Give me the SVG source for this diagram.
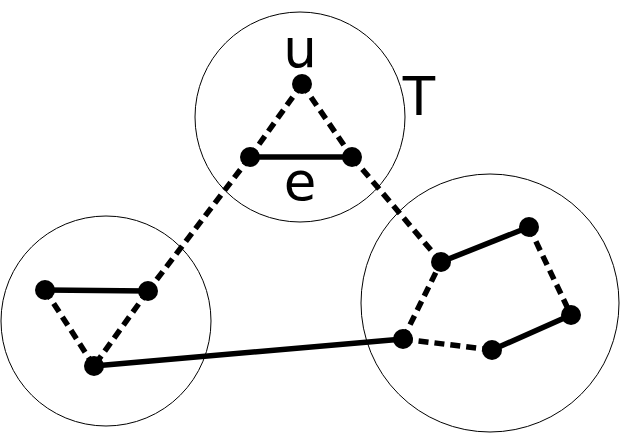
<svg xmlns="http://www.w3.org/2000/svg" width="620" height="433" viewBox="0 0 620 433">
<style>
.ring{fill:none;stroke:#000;stroke-width:1}
.s{stroke:#000;stroke-width:5.5;fill:none}
.d{stroke:#000;stroke-width:5.5;fill:none;stroke-dasharray:10,6}
.n{fill:#000}
.lbl{font-family:"DejaVu Sans",sans-serif;font-size:53px;fill:#000;text-anchor:middle}
</style>
<rect width="620" height="433" fill="#fff"/>
<g id="clusters">
<circle id="cluster-T" class="ring" cx="300" cy="117" r="105"/>
<circle id="cluster-left" class="ring" cx="106" cy="321" r="105"/>
<circle id="cluster-right" class="ring" cx="490" cy="303" r="129"/>
</g>
<g id="connectors">
<line class="s" x1="250" y1="157" x2="352" y2="157"/>
<line class="d" x1="302" y1="84" x2="250" y2="157"/>
<line class="d" x1="302" y1="84" x2="352" y2="157"/>
<line class="d" x1="250" y1="157" x2="148" y2="291"/>
<line class="d" x1="352" y1="157" x2="441" y2="262"/>
<line class="s" x1="45" y1="290" x2="148" y2="291"/>
<line class="d" x1="45" y1="290" x2="94" y2="366"/>
<line class="d" x1="148" y1="291" x2="94" y2="366"/>
<line class="s" x1="94" y1="366" x2="403" y2="339"/>
<line class="s" x1="441" y1="262" x2="529" y2="227"/>
<line class="d" x1="529" y1="227" x2="571" y2="315"/>
<line class="s" x1="571" y1="315" x2="492" y2="350"/>
<line class="d" x1="492" y1="350" x2="403" y2="339"/>
<line class="d" x1="403" y1="339" x2="441" y2="262"/>
</g>
<g id="node-u"><circle class="n" cx="302" cy="84" r="10"/></g>
<g id="node-t1"><circle class="n" cx="250" cy="157" r="10"/></g>
<g id="node-t2"><circle class="n" cx="352" cy="157" r="10"/></g>
<g id="node-l1"><circle class="n" cx="45" cy="290" r="10"/></g>
<g id="node-l2"><circle class="n" cx="148" cy="291" r="10"/></g>
<g id="node-l3"><circle class="n" cx="94" cy="366" r="10"/></g>
<g id="node-r1"><circle class="n" cx="441" cy="262" r="10"/></g>
<g id="node-r2"><circle class="n" cx="529" cy="227" r="10"/></g>
<g id="node-r3"><circle class="n" cx="571" cy="315" r="10"/></g>
<g id="node-r4"><circle class="n" cx="492" cy="350" r="10"/></g>
<g id="node-r5"><circle class="n" cx="403" cy="339" r="10"/></g>
<g id="labels">
<text class="lbl" x="300" y="67">u</text>
<text class="lbl" x="300" y="200">e</text>
<text class="lbl" x="419" y="115">T</text>
</g>
</svg>
